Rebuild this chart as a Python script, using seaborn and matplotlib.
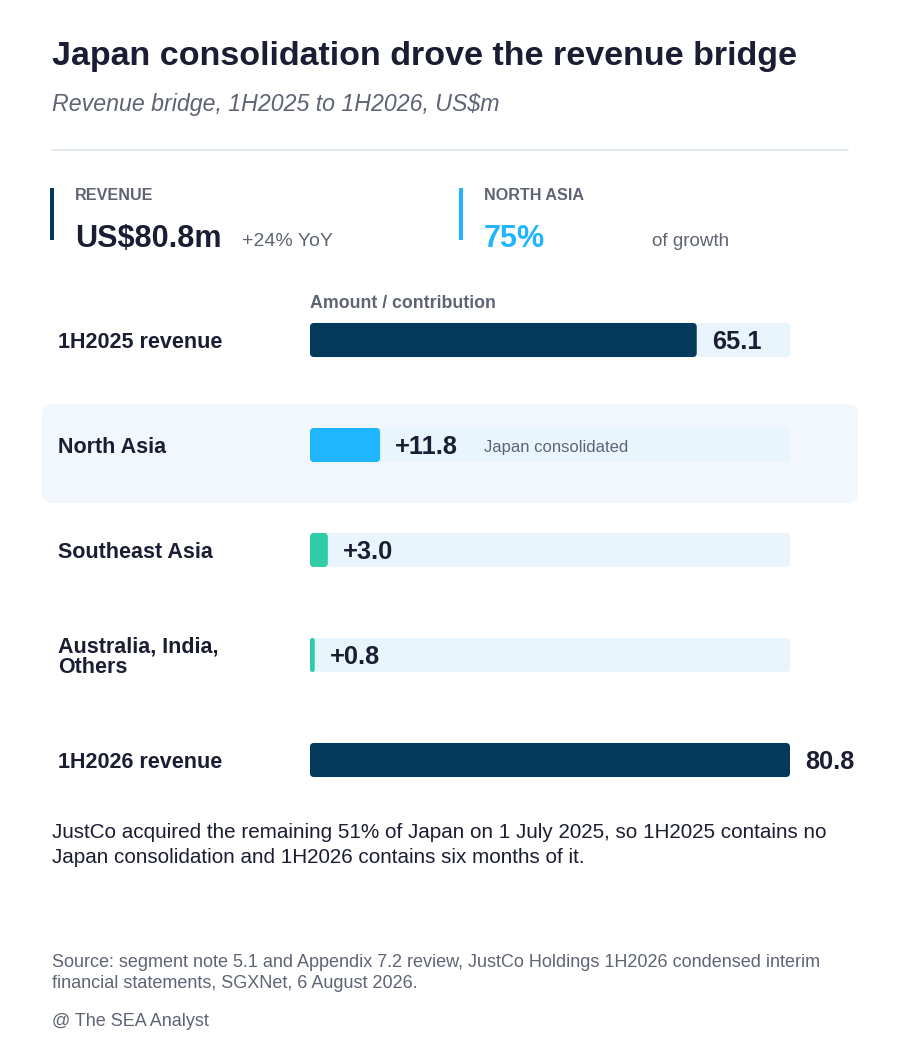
import matplotlib
matplotlib.use('Agg')
import matplotlib.pyplot as plt
import seaborn as sns
import pandas as pd
from matplotlib.patches import FancyBboxPatch, Rectangle

sns.set_theme(style='white')
plt.rcParams['font.family'] = ['Liberation Sans', 'DejaVu Sans']

# data
rows = ['1H2025 revenue', 'North Asia', 'Southeast Asia', 'Australia, India,\nOthers', '1H2026 revenue']
amounts = [65.1, 11.8, 3.0, 0.8, 80.8]
value_labels = ['65.1', '+11.8', '+3.0', '+0.8', '80.8']
bar_colors = ['#03395a', '#1fb5ff', '#2ecda7', '#2ecda7', '#03395a']
notes = ['', 'Japan consolidated', '', '', '']

NAVY = '#03395a'
DARK = '#1b1d33'
GRAY = '#5f6475'
TRACK = '#e8f5fd'

W, H = 900, 1040
fig = plt.figure(figsize=(W / 100, H / 100), dpi=100)
fig.patch.set_facecolor('white')


def px(x, y):
    return x / W, 1 - y / H


def ftext(x, y, s, **kw):
    fx, fy = px(x, y)
    return fig.text(fx, fy, s, **kw)


# header
ftext(52, 57, 'Japan consolidation drove the revenue bridge', fontsize=24.5,
      fontweight='bold', color=DARK, va='center')
ftext(52, 104, 'Revenue bridge, 1H2025 to 1H2026, US$m', fontsize=16.7,
      style='italic', color=GRAY, va='center')
fig.add_artist(plt.Line2D([52 / W, 848 / W], [1 - 150 / H] * 2, color='#dde6ee', lw=1.2))

# KPI cards
fig.add_artist(Rectangle(px(50, 240), 4 / W, 52 / H, transform=fig.transFigure, color=NAVY, lw=0))
ftext(75, 195, 'REVENUE', fontsize=11.6, fontweight='bold', color=GRAY, va='center')
ftext(75, 239, 'US$80.8m', fontsize=22, fontweight='bold', color=DARK, va='center')
ftext(242, 241, '+24% YoY', fontsize=14, color=GRAY, va='center')
fig.add_artist(Rectangle(px(459, 240), 4 / W, 52 / H, transform=fig.transFigure, color='#1fb5ff', lw=0))
ftext(484, 195, 'NORTH ASIA', fontsize=11.6, fontweight='bold', color=GRAY, va='center')
ftext(484, 239, '75%', fontsize=22, fontweight='bold', color='#1fb5ff', va='center')
ftext(652, 241, 'of growth', fontsize=13.6, color=GRAY, va='center')

ftext(310, 303, 'Amount / contribution', fontsize=12.8, fontweight='bold', color=GRAY, va='center')

# highlight panel behind North Asia row
hx, hy = px(42, 503)
fig.add_artist(FancyBboxPatch((hx, hy), 816 / W, 99 / H, transform=fig.transFigure,
                              boxstyle='round,pad=0,rounding_size=0.011',
                              mutation_aspect=W / H, fc='#f1f7fc', ec='none', zorder=0))

# bars
row_gap = 105
top = 287.5
ax = fig.add_axes([310 / W, 1 - (top + 5 * row_gap) / H, 480 / W, 5 * row_gap / H])
ax.set_zorder(2)
ax.patch.set_visible(False)

df = pd.DataFrame({'row': rows, 'amount': amounts})
track_max = max(amounts)
sns.barplot(x=[track_max] * len(rows), y=rows, order=rows, color=TRACK, width=0.324,
            saturation=1, linewidth=0, ax=ax)
sns.barplot(data=df, x='amount', y='row', order=rows, hue='row', palette=bar_colors,
            legend=False, width=0.324, saturation=1, linewidth=0, ax=ax)
ax.set_xlim(0, track_max)
ax.set_ylim(4.5, -0.5)
ax.set_axis_off()

# round the bar corners (about 4 px)
xpp = track_max / 480
ypp = 1 / row_gap
for p in list(ax.patches):
    x0, y0, w, h = p.get_x(), p.get_y(), p.get_width(), p.get_height()
    rs = min(4 * xpp, w / 2)
    fb = FancyBboxPatch((x0, y0), w, h, boxstyle=f'round,pad=0,rounding_size={rs}',
                        mutation_aspect=ypp / xpp, fc=p.get_facecolor(), ec='none',
                        zorder=p.get_zorder())
    p.remove()
    ax.add_patch(fb)

for i in range(len(rows)):
    ax.text(-252 * xpp, i + 0.02, rows[i], fontsize=15.5, fontweight='bold',
            color=DARK, va='center', ha='left', linespacing=1.0, clip_on=False)
    ax.text(amounts[i] + 15 * xpp, i + 0.02, value_labels[i], fontsize=18.3, fontweight='bold',
            color=DARK, va='center', ha='left', clip_on=False)
    if notes[i]:
        ax.text(amounts[i] + 104 * xpp, i + 0.02, notes[i], fontsize=12,
                color=GRAY, va='center', ha='left')

# footnotes
ftext(52, 845, 'JustCo acquired the remaining 51% of Japan on 1 July 2025, so 1H2025 contains no\n'
      'Japan consolidation and 1H2026 contains six months of it.', fontsize=14.9,
      color=DARK, va='center', linespacing=1.36)
ftext(52, 973, 'Source: segment note 5.1 and Appendix 7.2 review, JustCo Holdings 1H2026 condensed interim\n'
      'financial statements, SGXNet, 6 August 2026.', fontsize=12.95, color=GRAY,
      va='center', linespacing=1.38)
ftext(52, 1021, '@ The SEA Analyst', fontsize=13, color=GRAY, va='center')

fig.savefig('out.png', dpi=100, facecolor='white')
